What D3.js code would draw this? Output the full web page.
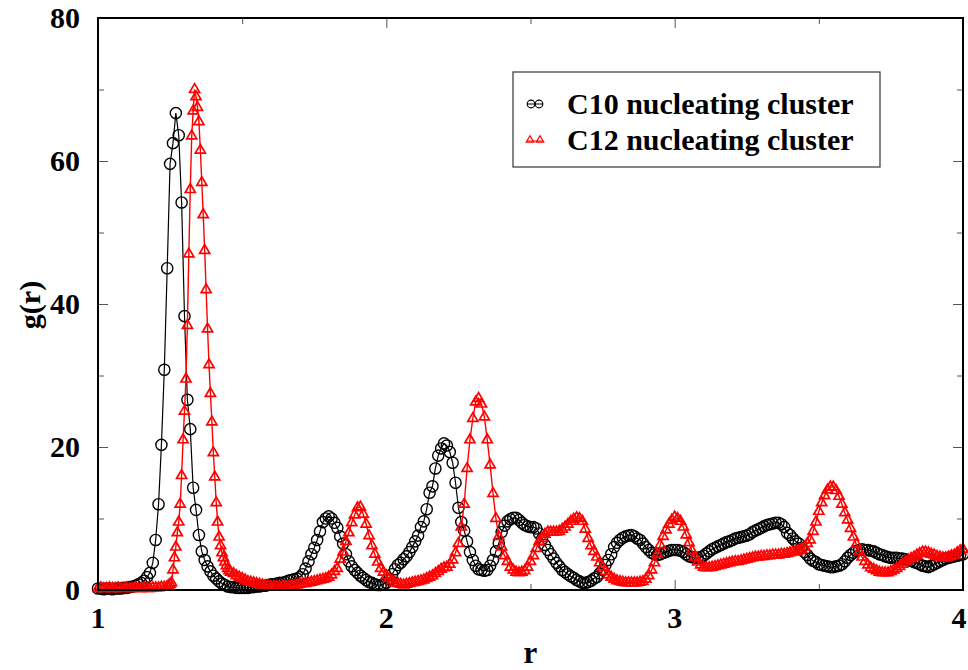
<!DOCTYPE html>
<html>
<head>
<meta charset="utf-8">
<script src="https://cdn.jsdelivr.net/npm/d3@7"></script>
<style>
  html, body { margin: 0; padding: 0; background: #fff; }
  svg { display: block; }
  text { font-family: "Liberation Serif", "Times New Roman", serif; font-weight: bold; fill: #000; }
</style>
</head>
<body>
<svg id="chart" width="968" height="670"></svg>
<script>
// ---- data ----
const rStart = 1.0, rStep = 0.01;          // r grid of both series (1.00 ... 4.00)
const xTicks = [1, 2, 3, 4];
const xMinorTicks = [1.5, 2.5, 3.5];
const yTicks = [0, 20, 40, 60, 80];
const yMinorTicks = [10, 30, 50, 70];
const seriesNames = ["C10 nucleating cluster", "C12 nucleating cluster"];

// C10 nucleating cluster, g(r) at r = 1.00, 1.01, ..., 4.00
const c10 = [
  0.2,0.2,0.1,0.2,0.2,0.1,0.2,0.2,0.2,0.3,
  0.3,0.4,0.5,0.6,0.8,1.0,1.3,1.8,2.4,3.8,
  7.0,12.0,20.3,30.8,45.0,59.6,62.5,66.7,63.6,54.2,
  38.3,26.6,22.5,14.3,11.2,7.7,5.4,4.2,3.3,2.6,
  2.0,1.6,1.2,0.9,0.7,0.5,0.4,0.4,0.3,0.3,
  0.3,0.3,0.3,0.4,0.4,0.5,0.5,0.6,0.6,0.7,
  0.8,0.8,0.9,1.0,1.0,1.1,1.3,1.4,1.5,1.6,
  1.8,2.2,3.0,4.0,5.0,5.9,7.0,8.2,9.5,10.0,
  10.3,10.0,9.4,8.7,7.5,6.5,5.0,4.0,3.3,2.8,
  2.4,2.0,1.7,1.4,1.1,1.0,0.8,0.7,0.7,0.8,
  1.0,1.5,2.2,2.9,3.5,3.8,4.3,4.7,5.3,6.0,
  6.8,7.6,8.8,9.6,11.3,13.6,14.5,17.0,18.8,19.8,
  20.5,20.2,19.3,17.8,15.0,11.5,9.5,8.3,6.8,5.3,
  4.2,3.4,2.9,2.8,2.7,2.8,3.4,4.2,5.4,6.5,
  8.1,9.0,9.6,9.9,10.1,10.1,9.8,9.4,9.1,8.9,
  8.8,8.8,8.6,7.9,7.1,6.3,5.6,5.0,4.4,3.8,
  3.3,2.8,2.5,2.2,1.9,1.7,1.4,1.2,1.0,1.0,
  1.1,1.3,1.6,1.8,2.3,2.8,3.5,4.2,5.0,6.0,
  6.6,7.0,7.3,7.5,7.6,7.7,7.5,7.2,7.0,6.5,
  6.0,5.6,5.2,5.0,4.9,5.0,5.2,5.3,5.5,5.6,
  5.6,5.6,5.5,5.3,5.0,4.7,4.6,4.5,4.5,4.6,
  4.8,5.1,5.4,5.7,5.9,6.1,6.3,6.5,6.7,6.8,
  7.0,7.2,7.3,7.4,7.5,7.6,7.8,8.1,8.3,8.5,
  8.7,8.9,9.1,9.2,9.3,9.4,9.4,9.2,8.8,8.0,
  7.7,7.2,6.8,6.5,5.9,5.3,4.9,4.4,4.1,3.9,
  3.6,3.5,3.4,3.3,3.2,3.2,3.3,3.4,3.6,4.0,
  4.5,4.9,5.2,5.5,5.6,5.7,5.6,5.6,5.5,5.4,
  5.2,5.0,4.9,4.7,4.6,4.5,4.5,4.5,4.4,4.4,
  4.3,4.2,4.1,3.9,3.8,3.6,3.4,3.3,3.2,3.4,
  3.6,3.8,4.0,4.2,4.4,4.5,4.6,4.7,4.8,4.9,
  5.0
];

// C12 nucleating cluster, g(r) at r = 1.00, 1.01, ..., 4.00
const c12 = [
  0.2,0.3,0.2,0.2,0.3,0.2,0.2,0.3,0.2,0.2,
  0.3,0.2,0.2,0.3,0.2,0.2,0.3,0.2,0.2,0.3,
  0.3,0.3,0.4,0.4,0.5,0.8,2.8,6.0,9.5,16.0,
  25.0,37.0,56.0,67.0,69.0,65.5,57.0,47.5,36.5,27.5,
  19.2,12.2,7.4,5.2,3.9,3.0,2.5,2.3,2.0,1.8,
  1.6,1.4,1.2,1.1,1.0,0.9,0.8,0.7,0.6,0.6,
  0.5,0.5,0.5,0.5,0.5,0.5,0.5,0.6,0.6,0.7,
  0.8,0.9,0.9,1.0,1.1,1.2,1.3,1.4,1.5,1.6,
  1.8,2.1,2.6,3.0,4.3,5.3,6.8,8.0,9.4,10.5,
  11.5,11.6,10.6,9.2,7.6,6.2,5.0,3.9,3.0,2.5,
  2.0,1.6,1.3,1.0,0.9,0.8,0.7,0.8,0.9,1.0,
  1.1,1.2,1.3,1.4,1.6,1.8,2.0,2.3,2.6,2.9,
  3.1,3.2,3.6,4.2,5.2,6.5,8.8,12.0,17.0,21.0,
  24.0,26.3,26.8,26.0,24.2,21.0,17.5,13.5,10.0,7.5,
  6.0,4.8,4.0,3.2,2.8,2.5,2.4,2.5,2.7,3.2,
  4.0,4.8,5.8,6.8,7.2,7.8,8.1,8.1,8.1,8.1,
  8.2,8.5,8.8,9.2,9.6,9.9,10.1,10.0,9.6,8.5,
  7.2,6.2,5.4,4.6,3.8,3.2,2.6,2.1,1.8,1.5,
  1.3,1.2,1.1,1.0,1.0,1.0,1.0,1.0,1.1,1.2,
  1.5,2.0,2.8,3.8,5.0,6.3,7.5,8.4,9.2,9.8,
  10.2,10.0,9.6,8.8,7.7,6.6,5.5,4.6,3.9,3.5,
  3.2,3.1,3.1,3.2,3.3,3.4,3.5,3.6,3.7,3.8,
  3.9,4.0,4.0,4.1,4.2,4.3,4.4,4.5,4.6,4.6,
  4.7,4.7,4.8,4.8,4.9,4.9,4.9,5.0,5.0,5.1,
  5.2,5.3,5.4,5.5,5.7,6.0,6.5,7.0,8.2,9.5,
  11.0,12.2,13.2,14.0,14.4,14.4,13.9,13.1,12.0,10.8,
  9.8,8.6,7.4,6.4,5.4,4.6,4.0,3.5,3.1,2.9,
  2.7,2.5,2.4,2.4,2.4,2.6,2.8,3.0,3.3,3.6,
  3.9,4.2,4.4,4.6,4.9,5.1,5.3,5.3,5.2,5.0,
  4.9,4.7,4.6,4.5,4.5,4.6,4.8,4.9,5.2,5.5,
  5.7
];

// extra C12 samples read at half steps inside the first peak: r = 1.245, 1.255, ..., 1.455
const c12HalfStart = 1.245;
const c12Half = [0.6,1.0,4.5,8.0,12.0,21.0,29.5,47.0,63.5,70.0,67.5,61.5,52.5,42.0,31.5,23.5,15.8,9.5,6.2,4.5,3.4,2.7];

// ---- build point lists ----
const ptsC10 = c10.map((g, i) => ({ r: +(rStart + i * rStep).toFixed(3), g }));
const ptsC12 = c12.map((g, i) => ({ r: +(rStart + i * rStep).toFixed(3), g }))
  .concat(c12Half.map((g, i) => ({ r: +(c12HalfStart + i * rStep).toFixed(3), g })))
  .sort((a, b) => a.r - b.r);

// ---- layout ----
const svg = d3.select("#chart");
const L = 98, R = 963, T = 18, B = 590;
const x = d3.scaleLinear().domain([1, 4]).range([L, R]);
const y = d3.scaleLinear().domain([0, 80]).range([B, T]);

// ticks (inward on all four sides)
function tickAxis(axisFn, scale, values, size, tr) {
  const g = svg.append("g").attr("transform", tr)
    .call(axisFn(scale).tickValues(values).tickSize(size).tickFormat(""));
  g.select(".domain").remove();
  g.selectAll(".tick line").attr("stroke", "#555").attr("stroke-width", 1);
  return g;
}
tickAxis(d3.axisBottom, x, xTicks, -10, `translate(0,${B})`);
tickAxis(d3.axisBottom, x, xMinorTicks, -6, `translate(0,${B})`);
tickAxis(d3.axisTop, x, xTicks, -10, `translate(0,${T})`);
tickAxis(d3.axisTop, x, xMinorTicks, -6, `translate(0,${T})`);
tickAxis(d3.axisLeft, y, yTicks, -10, `translate(${L},0)`);
tickAxis(d3.axisLeft, y, yMinorTicks, -6, `translate(${L},0)`);
tickAxis(d3.axisRight, y, yTicks, -10, `translate(${R},0)`);
tickAxis(d3.axisRight, y, yMinorTicks, -6, `translate(${R},0)`);

// tick labels
svg.append("g").selectAll("text").data(xTicks).join("text")
  .attr("x", d => Math.min(x(d), 959)).attr("y", 628)
  .attr("text-anchor", "middle").attr("font-size", 30).text(d => d);
svg.append("g").selectAll("text").data(yTicks).join("text")
  .attr("x", 80).attr("y", d => y(d) + 10)
  .attr("text-anchor", "end").attr("font-size", 30).text(d => d);

// axis titles
svg.append("text").attr("x", (L + R) / 2).attr("y", 663)
  .attr("text-anchor", "middle").attr("font-size", 31).text("r");
svg.append("text").attr("transform", "translate(40,305) rotate(-90)")
  .attr("text-anchor", "middle").attr("font-size", 30).text("g(r)");

// ---- series ----
const line = d3.line().x(d => x(d.r)).y(d => y(d.g));
const triSym = d3.symbol().type(d3.symbolTriangle).size(44);

// C10: black open circles
svg.append("path").datum(ptsC10).attr("d", line)
  .attr("fill", "none").attr("stroke", "#000").attr("stroke-width", 1.2);
svg.append("g").selectAll("circle").data(ptsC10).join("circle")
  .attr("cx", d => x(d.r)).attr("cy", d => y(d.g)).attr("r", 5.6)
  .attr("fill", "none").attr("stroke", "#000").attr("stroke-width", 1.4);

// C12: red open triangles
svg.append("path").datum(ptsC12).attr("d", line)
  .attr("fill", "none").attr("stroke", "#ff0000").attr("stroke-width", 1.4);
svg.append("g").selectAll("path").data(ptsC12).join("path")
  .attr("transform", d => `translate(${x(d.r)},${y(d.g)})`)
  .attr("d", triSym)
  .attr("fill", "none").attr("stroke", "#ff0000").attr("stroke-width", 1.7);

// frame
svg.append("rect").attr("x", L).attr("y", T).attr("width", R - L).attr("height", B - T)
  .attr("fill", "none").attr("stroke", "#000").attr("stroke-width", 2);

// ---- legend ----
const lg = svg.append("g");
lg.append("rect").attr("x", 513).attr("y", 72).attr("width", 367).attr("height", 95)
  .attr("fill", "#fff").attr("stroke", "#444").attr("stroke-width", 1.3);
const rows = [104, 140];
// row 1: circles
lg.append("line").attr("x1", 527).attr("x2", 543).attr("y1", rows[0]).attr("y2", rows[0])
  .attr("stroke", "#000").attr("stroke-width", 1);
[531, 539].forEach(cx => lg.append("circle").attr("cx", cx).attr("cy", rows[0]).attr("r", 3.8)
  .attr("fill", "none").attr("stroke", "#000").attr("stroke-width", 1.2));
// row 2: triangles
lg.append("line").attr("x1", 527).attr("x2", 543).attr("y1", rows[1] + 1).attr("y2", rows[1] + 1)
  .attr("stroke", "#ff0000").attr("stroke-width", 1);
[530, 540].forEach(cx => lg.append("path").attr("transform", `translate(${cx},${rows[1]})`)
  .attr("d", d3.symbol().type(d3.symbolTriangle).size(24))
  .attr("fill", "none").attr("stroke", "#ff0000").attr("stroke-width", 1.2));
seriesNames.forEach((name, i) => lg.append("text")
  .attr("x", 567).attr("y", rows[i] + 10).attr("font-size", 30).text(name));
</script>
</body>
</html>
